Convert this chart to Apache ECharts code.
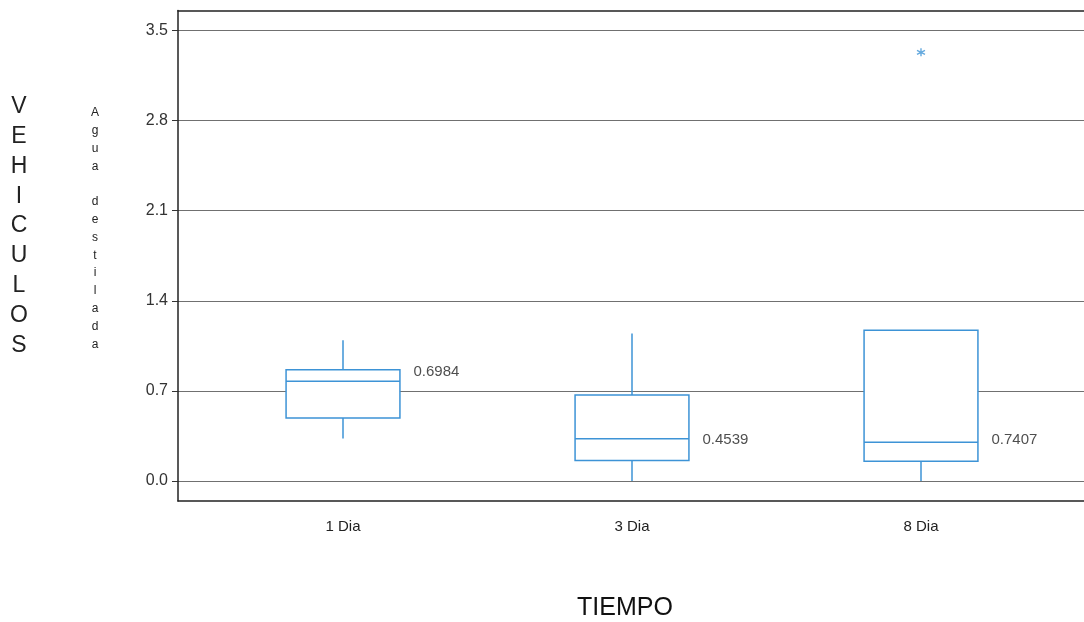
<!DOCTYPE html>
<html>
<head>
<meta charset="utf-8">
<script src="https://cdn.jsdelivr.net/npm/echarts@6/dist/echarts.min.js"></script>
<style>
html,body{margin:0;padding:0;background:#fff;}
#chart{width:1084px;height:622px;}
</style>
</head>
<body>
<div id="chart"></div>
<script>
// ---- data ----
const categories = ['1 Dia', '3 Dia', '8 Dia'];
const whiskerLow = [0.33, 0.00, 0.00];
const q1 = [0.49, 0.159, 0.154];
const medians = [0.776, 0.329, 0.301];
const q3 = [0.865, 0.669, 1.171];
const whiskerHigh = [1.094, 1.146, 1.171];
const outliers = [[2, 3.33]];
const annotationTexts = ['0.6984', '0.4539', '0.7407'];
const annotationLevels = [0.845, 0.32, 0.317];
const yTicks = [0.0, 0.7, 1.4, 2.1, 2.8, 3.5];
const yTitle = 'VEHICULOS';
const ySubTitle = 'Agua destilada';
const xTitle = 'TIEMPO';

const BLUE = '#3d93d6';
const FONT = '"Liberation Sans", Arial, sans-serif';
const Y_MIN = -0.155, Y_MAX = 3.655;

const boxData = categories.map((c, i) => [i, whiskerLow[i], q1[i], medians[i], q3[i], whiskerHigh[i]]);
const annData = categories.map((c, i) => [i, annotationLevels[i], annotationTexts[i]]);

function renderBox(params, api) {
  const x = api.value(0);
  const half = api.size([1, 0])[0] * 0.394 / 2;
  const pLow = api.coord([x, api.value(1)]);
  const pQ1 = api.coord([x, api.value(2)]);
  const pMed = api.coord([x, api.value(3)]);
  const pQ3 = api.coord([x, api.value(4)]);
  const pHigh = api.coord([x, api.value(5)]);
  const lineStyle = {stroke: BLUE, lineWidth: 1.5, fill: null};
  return {
    type: 'group',
    children: [
      {type: 'line', shape: {x1: pLow[0], y1: pLow[1], x2: pQ1[0], y2: pQ1[1]}, style: lineStyle},
      {type: 'line', shape: {x1: pQ3[0], y1: pQ3[1], x2: pHigh[0], y2: pHigh[1]}, style: lineStyle},
      {type: 'rect', shape: {x: pQ3[0] - half, y: pQ3[1], width: half * 2, height: pQ1[1] - pQ3[1]},
        style: {fill: '#fff', stroke: BLUE, lineWidth: 1.5}},
      {type: 'line', shape: {x1: pMed[0] - half, y1: pMed[1], x2: pMed[0] + half, y2: pMed[1]}, style: lineStyle}
    ]
  };
}

const frameLine = {show: true, onZero: false, lineStyle: {color: '#222', width: 1.5}};

const chart = echarts.init(document.getElementById('chart'), null, {renderer: 'canvas'});
chart.setOption({
  animation: false,
  backgroundColor: '#fff',
  grid: [
    {left: 178, top: 10.5, bottom: 121, right: 0, show: false},
    {left: 198.5, top: 10.5, bottom: 121, width: 867}
  ],
  xAxis: [
    {gridIndex: 0, type: 'value', min: 0, max: 1, position: 'bottom',
      axisLine: frameLine, axisTick: {show: false}, axisLabel: {show: false}, splitLine: {show: false}},
    {gridIndex: 1, type: 'category', data: categories,
      axisLine: {show: false}, axisTick: {show: false}, splitLine: {show: false},
      axisLabel: {margin: 18, fontSize: 15, color: '#222', fontFamily: FONT}},
    {gridIndex: 0, type: 'value', min: 0, max: 1, position: 'top',
      axisLine: frameLine, axisTick: {show: false}, axisLabel: {show: false}, splitLine: {show: false}}
  ],
  yAxis: [
    {gridIndex: 0, type: 'value', min: Y_MIN, max: Y_MAX,
      axisLine: frameLine,
      axisTick: {show: true, length: 6, customValues: yTicks, lineStyle: {color: '#333'}},
      axisLabel: {customValues: yTicks, margin: 10, fontSize: 16, color: '#333', fontFamily: FONT,
        formatter: v => Number(v).toFixed(1)},
      splitLine: {show: true, lineStyle: {color: '#707070', width: 1.2}}
    },
    {gridIndex: 1, type: 'value', min: Y_MIN, max: Y_MAX, show: false, splitLine: {show: false}}
  ],
  series: [
    {type: 'custom', xAxisIndex: 1, yAxisIndex: 1, renderItem: renderBox, data: boxData,
      encode: {x: 0, y: [1, 2, 3, 4, 5]}, z: 3},
    {type: 'scatter', xAxisIndex: 1, yAxisIndex: 1, data: outliers, symbolSize: 8,
      symbol: 'path://M5,0L5,10M0.7,2.5L9.3,7.5M9.3,2.5L0.7,7.5',
      itemStyle: {color: 'none', borderColor: BLUE, borderWidth: 1.4}, z: 4},
    {type: 'scatter', xAxisIndex: 1, yAxisIndex: 1, data: annData, symbolSize: 1,
      itemStyle: {color: 'rgba(0,0,0,0)'},
      label: {show: true, position: 'right', distance: 70, fontSize: 15, color: '#222', fontFamily: FONT,
        formatter: p => p.value[2]}, z: 5}
  ],
  graphic: [
    {type: 'text', x: 19, y: 92, style: {text: yTitle.split('').join('\n'), font: '23px ' + FONT,
      fill: '#222', textAlign: 'center', textVerticalAlign: 'top', lineHeight: 29.8}},
    {type: 'text', x: 95, y: 104, style: {text: ySubTitle.split('').join('\n'), font: '12px ' + FONT,
      fill: '#222', textAlign: 'center', textVerticalAlign: 'top', lineHeight: 17.8}},
    {type: 'text', x: 625, y: 608, style: {text: xTitle, font: '25px ' + FONT,
      fill: '#111', textAlign: 'center', textVerticalAlign: 'middle'}}
  ]
});
</script>
</body>
</html>
